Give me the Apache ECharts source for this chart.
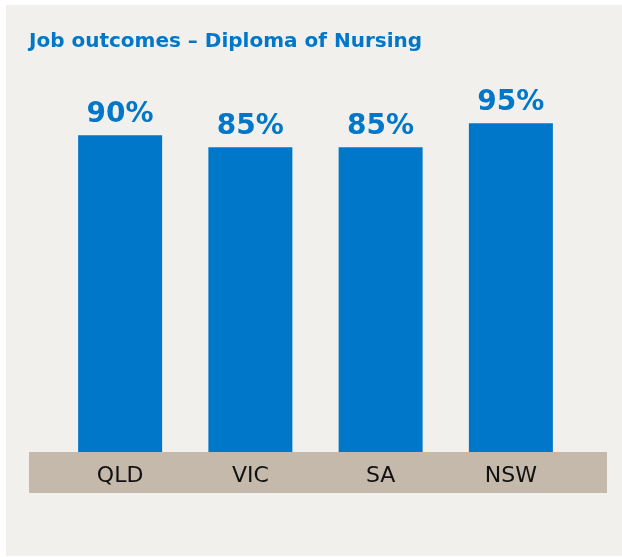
<!DOCTYPE html>
<html>
<head>
<meta charset="utf-8">
<script src="https://cdn.jsdelivr.net/npm/echarts@6/dist/echarts.min.js"></script>
<style>
  html, body { margin: 0; padding: 0; background: #ffffff; }
  #chart { width: 622px; height: 557px; }
</style>
</head>
<body>
<div id="chart"></div>
<script>
// Job outcome rates by state for the Diploma of Nursing
const titleText = 'Job outcomes \u2013 Diploma of Nursing';
const states = ['QLD', 'VIC', 'SA', 'NSW'];
const outcomes = [90, 85, 85, 95];

const BLUE = '#0077c8';
const PANEL = '#f1f0ec';
const BAND = '#c5b9ab';

// value axis range: bars rise from the bottom of the axis (AXIS_MIN)
const AXIS_MIN = -42;
const AXIS_MAX = 100;
const BAR_WIDTH = 84;

const chart = echarts.init(document.getElementById('chart'), null, { renderer: 'canvas' });

chart.setOption({
  animation: false,
  backgroundColor: '#ffffff',
  graphic: [
    // light panel behind the whole chart
    { type: 'rect', z: -10, shape: { x: 6, y: 5, width: 616, height: 551 }, style: { fill: PANEL } },
    // tan band holding the state names
    { type: 'rect', z: -5, shape: { x: 29, y: 452, width: 578, height: 41 }, style: { fill: BAND } },
    {
      type: 'text', left: 29, top: 32, z: 10,
      style: {
        text: titleText,
        fill: BLUE,
        font: 'bold 20px "DejaVu Sans"'
      }
    }
  ],
  grid: { left: 55, right: 46, top: 111.2, bottom: 105, containLabel: false },
  xAxis: {
    type: 'category',
    data: states,
    axisLine: { show: false },
    axisTick: { show: false },
    axisLabel: {
      margin: 13,
      color: '#111111',
      fontFamily: 'DejaVu Sans',
      fontSize: 22,
      verticalAlign: 'top'
    }
  },
  yAxis: {
    type: 'value',
    min: AXIS_MIN,
    max: AXIS_MAX,
    show: false,
    splitLine: { show: false }
  },
  series: [{
    type: 'custom',
    data: outcomes.map((v, i) => [i, v]),
    encode: { x: 0, y: 1 },
    renderItem: function (params, api) {
      const idx = api.value(0);
      const val = api.value(1);
      const top = api.coord([idx, val]);
      const base = api.coord([idx, AXIS_MIN]);
      return {
        type: 'group',
        children: [
          {
            type: 'rect',
            shape: { x: top[0] - BAR_WIDTH / 2, y: top[1], width: BAR_WIDTH, height: base[1] - top[1] },
            style: { fill: BLUE }
          },
          {
            type: 'text',
            x: top[0],
            y: top[1] - 6,
            style: {
              text: val + '%',
              fill: BLUE,
              font: 'bold 28px "DejaVu Sans"',
              align: 'center',
              verticalAlign: 'bottom'
            }
          }
        ]
      };
    }
  }]
});
</script>
</body>
</html>
